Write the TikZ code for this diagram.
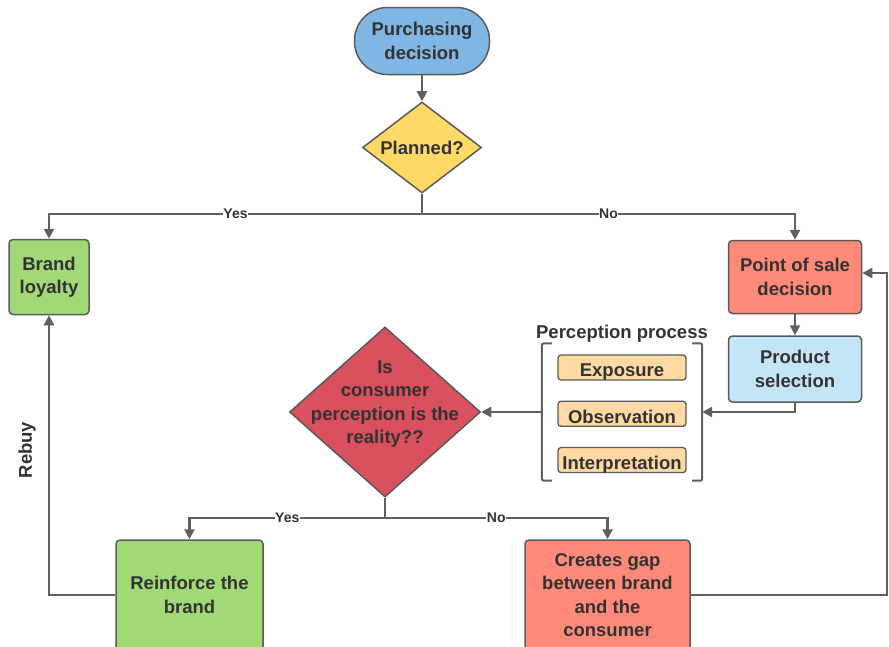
\documentclass[tikz,border=0pt]{standalone}
\usepackage{fontspec}
\setmainfont{Liberation Sans}
\usetikzlibrary{shapes,arrows,arrows.meta,positioning}
\definecolor{pillblue}{RGB}{127,182,228}
\definecolor{planyellow}{RGB}{255,217,102}
\definecolor{loyalgreen}{RGB}{162,217,119}
\definecolor{salesalmon}{RGB}{255,138,122}
\definecolor{selblue}{RGB}{196,229,247}
\definecolor{peach}{RGB}{255,217,164}
\definecolor{realred}{RGB}{217,80,94}
\definecolor{linegray}{RGB}{96,96,96}
\definecolor{bordergray}{RGB}{90,90,90}
\definecolor{txtgray}{RGB}{51,51,51}

\begin{document}
\begin{tikzpicture}[x=1pt, y=-1pt, font=\fontsize{18.5}{23.3}\selectfont\bfseries, text=txtgray]
	\tikzstyle{stepbox} = [rectangle, draw=bordergray, line width=1.5pt, rounded corners=4pt, align=center, inner sep=0pt]
	\tikzstyle{choice} = [diamond, draw=bordergray, line width=1.5pt, inner sep=0pt, align=center]
	\tikzstyle{phase} = [rectangle, draw=bordergray, line width=1.3pt, rounded corners=3pt, fill=peach, minimum width=128pt, minimum height=25pt, inner sep=0pt, text height=19pt, text depth=0pt]
	\tikzstyle{flow} = [draw=linegray, line width=2.6pt, -{Triangle[length=10pt, width=10pt]}]
	\tikzstyle{answer} = [font=\fontsize{14}{16}\selectfont\bfseries, fill=white, inner sep=0.5pt]
	\useasboundingbox (0,0) rectangle (889,646);
	
	\node[stepbox, rounded corners=33pt, fill=pillblue, minimum width=135pt, minimum height=67pt] (Start) at (422,41) {Purchasing\\decision};
	\node[choice, aspect=1.3, fill=planyellow, minimum width=119pt, minimum height=91pt, below=26pt of Start] (Planned) {Planned?};
	
	\node[stepbox, fill=loyalgreen, minimum width=80pt, minimum height=75pt] (Loyalty) at (49,277) {Brand\\loyalty};
	\node[stepbox, fill=salesalmon, minimum width=133pt, minimum height=73pt] (PointSale) at (795,277) {Point of sale\\decision};
	\node[stepbox, fill=selblue, minimum width=133pt, minimum height=66pt, below=21pt of PointSale] (Selection) {Product\\selection};
	
	\node[minimum width=160pt, minimum height=137pt, inner sep=0pt] (Perception) at (622,412) {};
	\node[above=-3pt of Perception] (PerceptionTitle) {Perception process};
	\node[phase, below=11pt of Perception.north] (Exposure) {Exposure};
	\node[phase, below=20pt of Exposure] (Observation) {Observation};
	\node[phase, below=20pt of Observation] (Interpretation) {Interpretation};
	\draw[draw=linegray, line width=2pt, rounded corners=2pt] ([xshift=10pt]Perception.north west) -- (Perception.north west) -- (Perception.south west) -- ([xshift=10pt]Perception.south west);
	\draw[draw=linegray, line width=2pt, rounded corners=2pt] ([xshift=-10pt]Perception.north east) -- (Perception.north east) -- (Perception.south east) -- ([xshift=-10pt]Perception.south east);
	
	\node[choice, fill=realred, minimum width=191pt, minimum height=170pt, label={[align=center, text=txtgray, yshift=8pt]center:Is\\consumer\\perception is the\\reality??}] (Reality) at (385,412) {};
	
	\node[stepbox, fill=loyalgreen, minimum width=147pt, minimum height=110pt] (Reinforce) at (189.5,595) {Reinforce the\\brand};
	\node[stepbox, fill=salesalmon, minimum width=165pt, minimum height=110pt] (Gap) at (607.5,595) {Creates gap\\between brand\\and the\\consumer};
	\node[rotate=90] (RebuyText) at (27,450) {Rebuy};
	
	\coordinate (PlanFork) at (Planned.south |- 0,214);
	\coordinate (RealFork) at (Reality.south |- 0,518);
	\coordinate (LoopBack) at (887,595);
	
	\draw[flow] (Start) -- (Planned);
	\draw[flow, -] (Planned.south) -- (PlanFork);
	\draw[flow] (PlanFork) -| node[answer, pos=0.25] {Yes} (Loyalty.north);
	\draw[flow] (PlanFork) -| node[answer, pos=0.25] {No} (PointSale.north);
	
	\draw[flow] (PointSale) -- (Selection);
	\draw[flow] (Selection.south) |- (Perception.east);
	\draw[flow] (Perception.west) -- (Reality.east);
	
	\draw[flow, -] (Reality.south) -- (RealFork);
	\draw[flow] (RealFork) -| node[answer, pos=0.25] {Yes} (Reinforce.north);
	\draw[flow] (RealFork) -| node[answer, pos=0.25] {No} (Gap.north);
	
	\draw[flow] (Reinforce.west) -| (Loyalty.south);
	\draw[flow] (Gap.east) -- (LoopBack) |- ([yshift=4pt]PointSale.east);
	
\end{tikzpicture}
\end{document}
